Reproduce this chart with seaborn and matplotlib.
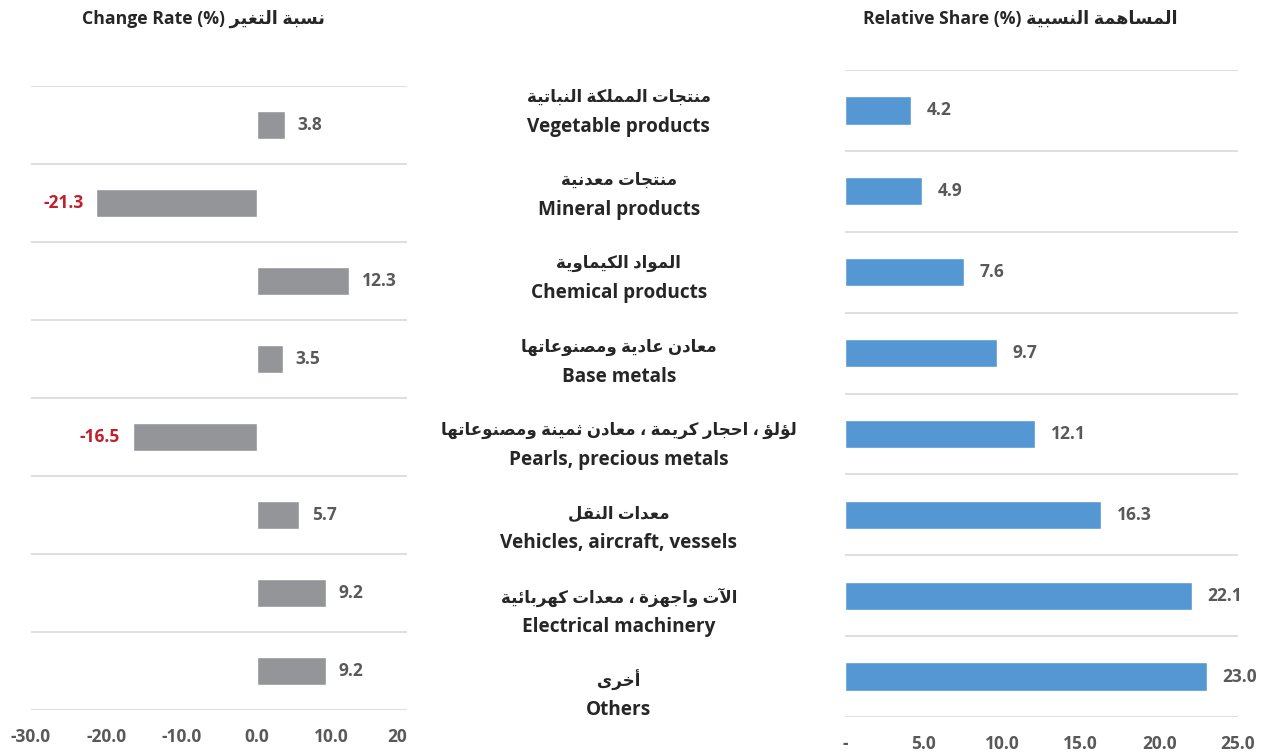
import numpy as np
import pandas as pd
import matplotlib
matplotlib.use("Agg")
import matplotlib.pyplot as plt
import seaborn as sns

# ---------------- data ----------------
categories_en = ["Vegetable products", "Mineral products", "Chemical products", "Base metals",
                 "Pearls, precious metals", "Vehicles, aircraft, vessels",
                 "Electrical machinery", "Others"]
categories_ar = ["منتجات المملكة النباتية", "منتجات معدنية", "المواد الكيماوية",
                 "معادن عادية ومصنوعاتها", "لؤلؤ ، احجار كريمة ، معادن ثمينة ومصنوعاتها",
                 "معدات النقل", "الآت واجهزة ، معدات كهربائية", "أخرى"]
change_rate = [3.8, -21.3, 12.3, 3.5, -16.5, 5.7, 9.2, 9.2]
relative_share = [4.2, 4.9, 7.6, 9.7, 12.1, 16.3, 22.1, 23.0]

left_ticks = [-30, -20, -10, 0, 10, 20]
left_tick_labels = ["-30.0", "-20.0", "-10.0", "0.0", "10.0", "20"]
right_ticks = [0, 5, 10, 15, 20, 25]
right_tick_labels = ["-", "5.0", "10.0", "15.0", "20.0", "25.0"]

title_left_en, title_left_ar = "Change Rate (%)", "نسبة التغير"
title_right_en, title_right_ar = "Relative Share (%)", "المساهمة النسبية"

# ---------------- minimal Arabic shaping (visual order) ----------------
DUAL = {'\u0626': 0xFE89, '\u0628': 0xFE8F, '\u062A': 0xFE95, '\u062B': 0xFE99, '\u062C': 0xFE9D,
        '\u062D': 0xFEA1, '\u062E': 0xFEA5, '\u0633': 0xFEB1, '\u0634': 0xFEB5, '\u0635': 0xFEB9,
        '\u0636': 0xFEBD, '\u0637': 0xFEC1, '\u0638': 0xFEC5, '\u0639': 0xFEC9, '\u063A': 0xFECD,
        '\u0641': 0xFED1, '\u0642': 0xFED5, '\u0643': 0xFED9, '\u0644': 0xFEDD, '\u0645': 0xFEE1,
        '\u0646': 0xFEE5, '\u0647': 0xFEE9, '\u064A': 0xFEF1}
RIGHT = {'\u0622': 0xFE81, '\u0623': 0xFE83, '\u0624': 0xFE85, '\u0625': 0xFE87, '\u0627': 0xFE8D,
         '\u0629': 0xFE93, '\u062F': 0xFEA9, '\u0630': 0xFEAB, '\u0631': 0xFEAD, '\u0632': 0xFEAF,
         '\u0648': 0xFEED, '\u0649': 0xFEEF}
LAM_ALEF = {'\u0622': 0xFEF5, '\u0623': 0xFEF7, '\u0625': 0xFEF9, '\u0627': 0xFEFB}


def shape_ar(s):
    tokens = []
    i = 0
    while i < len(s):
        c = s[i]
        if c == '\u0644' and i + 1 < len(s) and s[i + 1] in LAM_ALEF:
            tokens.append(('R', LAM_ALEF[s[i + 1]]))
            i += 2
            continue
        if c in DUAL:
            tokens.append(('D', DUAL[c]))
        elif c in RIGHT:
            tokens.append(('R', RIGHT[c]))
        elif c == '\u0621':
            tokens.append(('U', 0xFE80))
        else:
            tokens.append(('N', c))
        i += 1
    out = []
    for j, (k, b) in enumerate(tokens):
        if k == 'N':
            out.append(b)
            continue
        if k == 'U':
            out.append(chr(b))
            continue
        prev_j = j > 0 and tokens[j - 1][0] == 'D'
        next_j = k == 'D' and j + 1 < len(tokens) and tokens[j + 1][0] in ('D', 'R')
        if k == 'R':
            form = 1 if prev_j else 0
        else:
            form = 3 if (prev_j and next_j) else 1 if prev_j else 2 if next_j else 0
        out.append(chr(b + form))
    return ''.join(reversed(out))


# ---------------- style ----------------
sns.set_theme(style="white")
FONT = ['Open Sans', 'DejaVu Sans']
plt.rcParams['font.family'] = FONT
plt.rcParams['font.weight'] = 'bold'

GRAY_BAR = "#939598"
BLUE_BAR = "#5497D3"
GRID = "#D9D9D9"
TXT_GRAY = "#595959"
NEG_RED = "#C0202A"
DARK = "#262626"

fig = plt.figure(figsize=(12.7, 7.55), dpi=100)
W, H = 1270, 755


def ax_px(x0, x1, ytop, ybot):
    return fig.add_axes([x0 / W, (H - ybot) / H, (x1 - x0) / W, (ybot - ytop) / H])


df = pd.DataFrame({"cat": categories_en, "change": change_rate, "share": relative_share})

# ---------- left: change rate ----------
axL = ax_px(31, 407, 86, 710)
sns.barplot(data=df, x="change", y="cat", orient="h", color=GRAY_BAR, width=0.35,
            saturation=1, ax=axL)
axL.set_xlim(-30, 20)
axL.set_ylim(7.5, -0.5)

# ---------- right: relative share ----------
axR = ax_px(845, 1238, 70, 717)
sns.barplot(data=df, x="share", y="cat", orient="h", color=BLUE_BAR, width=0.35,
            saturation=1, ax=axR)
axR.set_xlim(0, 25)
axR.set_ylim(7.5, -0.5)

for ax, ticks, labels in [(axL, left_ticks, left_tick_labels), (axR, right_ticks, right_tick_labels)]:
    ax.set_xlabel("")
    ax.set_ylabel("")
    ax.set_yticks([])
    ax.set_yticks(np.arange(-0.5, 8.0, 1.0), minor=True)
    ax.grid(False)
    ax.grid(which="minor", axis="y", color=GRID, linewidth=1.2)
    ax.set_xticks(ticks)
    ax.set_xticklabels(labels, fontsize=12.5, fontweight="bold", color=TXT_GRAY)
    ax.tick_params(axis="x", length=0, pad=13)
    ax.tick_params(axis="y", which="both", length=0)
    for sp in ax.spines.values():
        sp.set_visible(False)
    ax.set_facecolor("none")

axL.get_xticklabels()[-1].set_ha("right")

# value labels
contL = axL.containers[0]
txtsL = axL.bar_label(contL, labels=[f"{v:.1f}" for v in change_rate], padding=9,
                      fontsize=12.5, fontweight="bold", color=TXT_GRAY)
for t, v in zip(txtsL, change_rate):
    if v < 0:
        t.set_color(NEG_RED)
contR = axR.containers[0]
axR.bar_label(contR, labels=[f"{v:.1f}" for v in relative_share], padding=11,
              fontsize=12.5, fontweight="bold", color=TXT_GRAY)

# ---------- middle labels ----------
axM = ax_px(430, 810, 70.3, 737.2)
axM.set_xlim(0, 1)
axM.set_ylim(7.5, -0.5)
axM.axis("off")
for i, (ar, en) in enumerate(zip(categories_ar, categories_en)):
    axM.annotate(shape_ar(ar), xy=(0.497, i), xytext=(0, 11), textcoords="offset points",
                 ha="center", va="center", fontsize=12, fontweight="bold", color=DARK,
                 family=FONT)
    axM.annotate(en, xy=(0.497, i), xytext=(0, -10.5), textcoords="offset points",
                 ha="center", va="center", fontsize=13.7, fontweight="bold", color=DARK,
                 family=FONT)

# ---------- titles ----------
fig.text(203 / W, 1 - 19 / H, title_left_en + " " + shape_ar(title_left_ar),
         ha="center", va="center", fontsize=12.7, fontweight="bold", color=DARK, family=FONT)
fig.text(1020 / W, 1 - 19 / H, title_right_en + " " + shape_ar(title_right_ar),
         ha="center", va="center", fontsize=12.7, fontweight="bold", color=DARK, family=FONT)

fig.savefig("out.png", dpi=100)
